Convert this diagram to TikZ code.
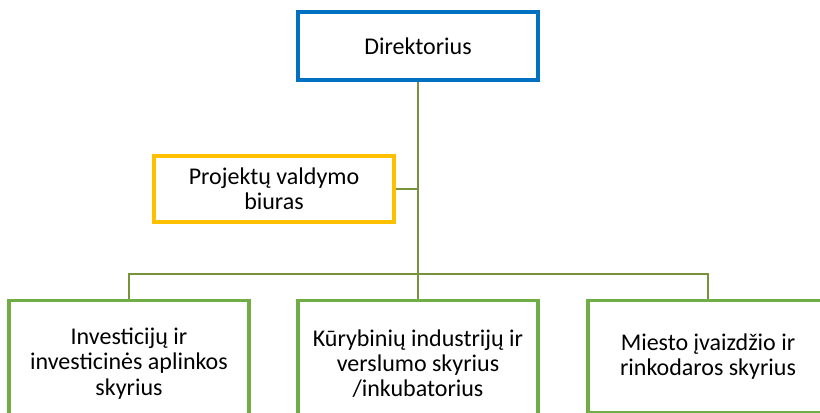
\documentclass[tikz,border=0pt]{standalone}
\usepackage{fontspec}
\setmainfont{Carlito}
\usepackage{tikz}
\usetikzlibrary{positioning}
\definecolor{dirblue}{RGB}{0,112,192}
\definecolor{biurgold}{RGB}{255,192,0}
\definecolor{unitgreen}{RGB}{112,173,71}
\definecolor{linkolive}{RGB}{119,147,60}

\begin{document}
\begin{tikzpicture}[x=0.75pt,y=-0.75pt,font=\fontsize{18pt}{19pt}\selectfont]
\tikzstyle{orgbox} = [rectangle, draw, line width=2.3pt, align=center,
    minimum width=180pt, inner sep=0pt]
\tikzstyle{link} = [draw=linkolive, line width=1.8pt]

\useasboundingbox (0,0) rectangle (820,413);
\clip (0,0) rectangle (820,413);

\node[orgbox, draw=dirblue, minimum height=51pt] (director) at (418,46) {Direktorius};
\node[orgbox, draw=biurgold, minimum height=49.5pt] (biuras) at (274,189) {Projektų valdymo\\biuras};

\node[orgbox, draw=unitgreen, minimum height=94.5pt, anchor=north] (invest) at (129,299)
    {Investicijų ir\\investicinės aplinkos\\skyrius};
\node[orgbox, draw=unitgreen, minimum height=94.5pt, anchor=north] (kuryba) at (418,299)
    {Kūrybinių industrijų ir\\verslumo skyrius\\/inkubatorius};
\node[orgbox, draw=unitgreen, minimum height=84pt, anchor=north] (miestas) at (708,299)
    {Miesto įvaizdžio ir\\rinkodaros skyrius};

\coordinate (bus) at (director.south |- 0,274);
\coordinate (tap) at (director.south |- biuras.east);

\draw[link] (director.south) -- (bus);
\draw[link] (biuras.east) -- (tap);
\draw[link] (invest.north) |- (bus) -| (miestas.north);
\draw[link] (bus) -- (kuryba.north);

\end{tikzpicture}
\end{document}
